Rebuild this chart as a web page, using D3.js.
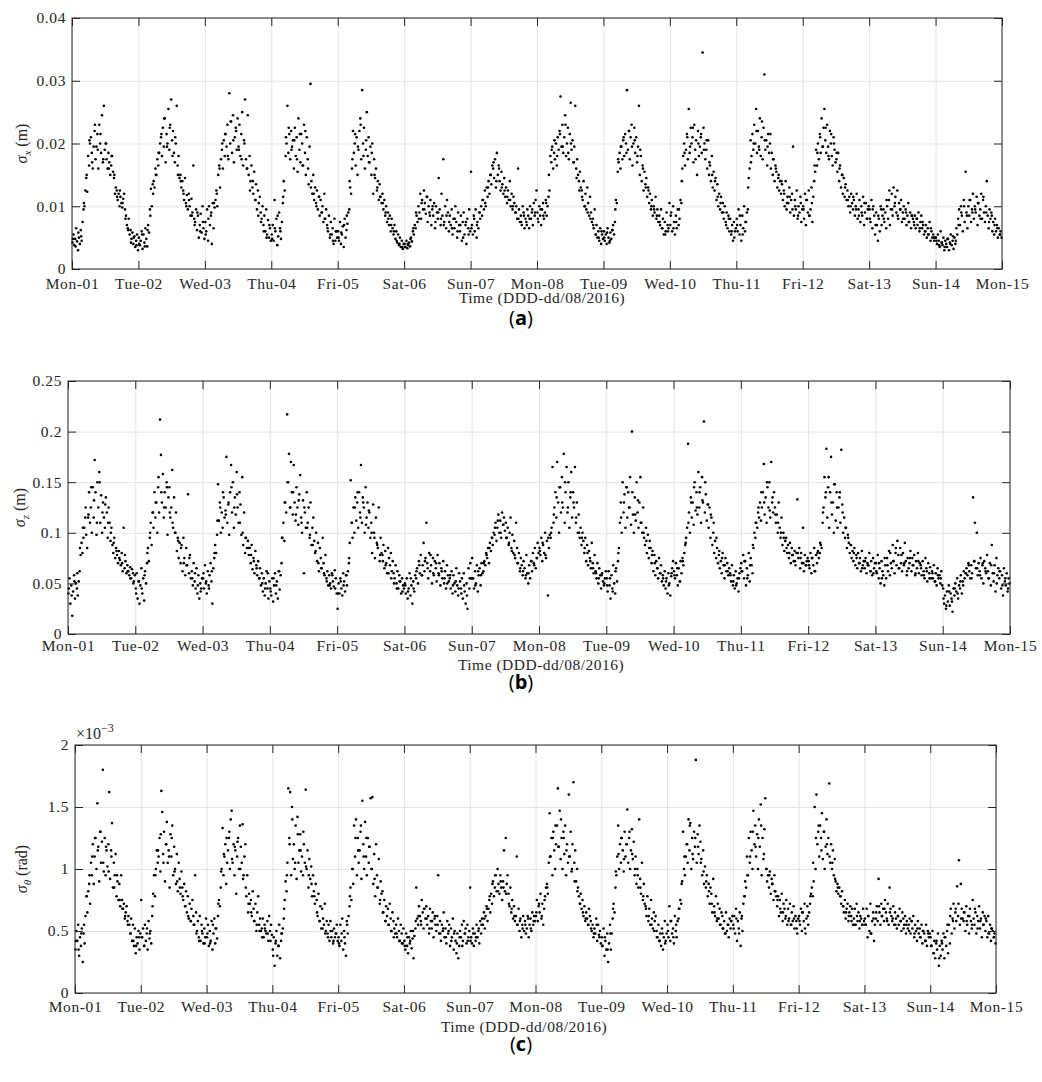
<!DOCTYPE html>
<html>
<head>
<meta charset="utf-8">
<script src="https://cdn.jsdelivr.net/npm/d3@7"></script>
<style>
  body { margin: 0; background: #fff; }
  svg text { font-family: "Liberation Serif", "DejaVu Serif", serif; fill: #262626; }
  .tick text { font-size: 15.5px; letter-spacing: 0.6px; }
  .axis-title { font-size: 15.5px; letter-spacing: 0.5px; }
  .caption { font-family: "Open Sans", "DejaVu Sans", sans-serif; font-size: 20px; fill: #000; }
</style>
</head>
<body>
<svg id="chart" width="1042" height="1082"></svg>
<script>
// day tick labels (one tick per day, 01/08/2016 .. 15/08/2016)
var dayLabels = ["Mon-01", "Tue-02", "Wed-03", "Thu-04", "Fri-05", "Sat-06", "Sun-07",
  "Mon-08", "Tue-09", "Wed-10", "Thu-11", "Fri-12", "Sat-13", "Sun-14", "Mon-15"];

// sigma_x, units of 1e-4 m, 72 samples per day (every 20 min)
var sigmaX = [
  [42,55,38,48,65,44,30,50,40,62,45,75, 95,100,125,145,123,180,165,200,210,185,160,195, 220,175,195,215,160,230,200,185,245,170,260,190, 200,175,160,185,170,150,165,180,155,145,120,130, 125,110,120,100,115,105,98,112,120,95,85,70, 65,80,55,62,48,58,40,52,35,45,55,30],
  [50,38,45,60,32,55,42,65,48,36,70,58, 95,128,100,135,140,130,160,150,175,165,185,200, 210,180,225,195,240,170,215,200,255,190,230,270, 205,220,185,170,200,260,165,180,145,150,130,140, 125,110,145,105,118,95,120,100,85,112,90,165, 80,75,95,62,85,50,70,88,58,100,65,48],
  [75,60,95,45,100,70,85,40,105,65,98,110, 125,100,150,165,130,175,190,160,205,180,215,195, 230,175,280,200,235,185,245,170,210,225,190,240, 195,230,180,215,250,165,205,270,175,160,245,150, 180,140,165,130,120,155,110,135,95,125,105,115, 90,80,100,70,85,60,95,55,78,50,65,45],
  [55,70,45,110,60,80,38,52,90,65,48,75, 105,140,125,180,200,260,185,215,175,220,195,205, 160,225,180,210,155,240,190,170,215,200,165,230, 185,150,210,175,135,195,295,140,120,150,110,130, 105,125,95,115,85,110,90,100,75,120,80,95, 70,60,85,50,75,55,65,40,80,45,60,50],
  [60,45,75,40,55,68,35,80,50,62,72,90, 95,130,120,160,220,185,200,165,210,150,190,220, 240,175,285,200,225,160,190,250,180,210,170,195, 150,200,120,175,145,160,125,140,110,135,115,105, 120,95,110,85,100,75,90,70,85,60,80,65, 55,70,48,60,42,55,38,50,35,45,32,40],
  [40,35,45,33,38,42,36,50,44,60,55,70, 65,85,75,100,90,120,80,110,95,125,105,88, 115,75,100,90,110,70,95,85,105,65,100,90, 80,145,95,70,120,85,175,75,100,65,110,90, 60,85,70,95,55,80,65,100,75,50,90,70, 60,85,45,75,90,55,70,40,80,65,95,60],
  [155,70,55,85,60,95,50,75,65,90,80,100, 85,110,95,125,100,130,115,140,120,150,135,165, 160,145,175,130,185,150,165,140,125,155,135,120, 145,115,130,105,125,110,140,100,120,95,115,105, 90,100,80,160,95,75,85,70,100,90,65,80, 75,95,85,65,100,80,90,70,105,85,110,125],
  [90,75,100,85,70,95,105,80,90,110,85,100, 115,125,180,170,195,160,185,175,200,165,210,190, 220,275,195,230,185,210,245,180,200,225,175,215, 265,190,205,170,195,260,160,175,150,140,155,130, 125,110,140,100,120,95,130,105,85,115,90,75, 80,65,95,55,70,50,60,45,65,40,55,48],
  [60,45,55,40,65,50,42,58,48,62,70,55, 75,110,105,155,170,185,160,195,175,205,180,215, 200,285,190,220,175,210,230,165,200,225,185,210, 170,195,260,150,180,140,165,125,155,135,145,115, 130,105,120,95,110,85,100,90,115,80,95,75, 85,70,95,65,80,55,75,60,90,70,65,105],
  [70,90,60,100,75,55,85,65,95,70,80,110, 105,160,180,200,165,190,215,175,255,185,225,200, 210,170,230,190,205,150,220,180,195,210,185,345, 225,200,175,190,160,205,150,165,140,180,130,155, 125,145,110,135,100,120,95,115,90,105,80,100, 75,90,65,85,60,80,55,70,45,75,60,65],
  [80,60,95,55,70,45,85,65,100,60,75,90, 95,145,160,205,180,215,190,230,200,255,185,220, 195,240,180,210,175,225,310,190,205,165,215,185, 200,160,185,150,175,140,165,155,130,145,125,140, 120,135,110,125,100,140,95,115,105,130,90,110, 120,195,85,110,95,125,80,100,90,115,75,95],
  [100,80,120,70,110,90,125,85,95,130,75,115, 140,155,190,165,200,175,215,185,240,195,225,255, 205,185,230,195,175,220,200,180,165,210,190,170, 175,155,185,140,165,130,150,120,145,115,135,110, 125,100,115,90,120,105,95,110,85,100,120,80, 95,110,75,100,85,115,70,90,105,80,95,100],
  [95,75,110,65,100,85,55,90,70,45,80,60, 100,70,85,95,75,90,65,100,80,110,70,95, 120,85,130,100,115,90,125,80,105,95,110,75, 90,100,80,95,70,85,105,75,90,65,85,80, 75,85,65,80,70,90,60,75,85,65,70,55, 60,70,50,65,55,75,45,60,50,55,45,50],
  [50,40,55,45,35,60,42,38,50,30,45,40, 35,48,30,42,55,38,45,32,50,40,65,55, 80,95,70,100,85,60,110,75,155,90,65,100, 85,110,75,95,120,80,100,90,115,70,105,85, 95,120,80,110,90,75,100,140,85,65,95,80, 90,60,75,55,80,60,70,50,65,55,60,50]
];
// extra hourly epochs for sigma_x (1e-4 m, 24 per day)
var sigmaXHourly = [
  [48,36,58,52,105,150,205,170,230,190,215,175,200,160,180,150,115,125,105,80,62,42,50,38],
  [40,55,36,62,85,120,150,185,215,240,195,225,180,210,150,140,120,100,110,85,70,90,60,75],
  [55,80,90,105,120,160,200,215,180,235,205,220,190,175,200,160,125,140,110,85,75,60,50,70],
  [48,65,85,60,115,210,225,190,205,175,215,165,220,160,130,120,100,115,90,80,65,55,45,60],
  [50,58,70,85,140,175,215,195,230,180,205,170,185,150,130,115,105,90,80,70,60,45,40,35],
  [35,40,48,65,90,80,105,95,115,85,100,75,90,80,70,85,75,65,80,60,70,50,75,55],
  [65,80,70,90,110,105,130,150,170,140,160,130,125,115,110,100,90,80,75,85,70,80,95,90],
  [80,95,85,105,150,190,205,180,215,195,230,185,200,170,145,125,115,100,90,80,70,55,50,60],
  [50,58,45,62,95,175,195,210,185,220,195,205,180,190,160,130,125,100,95,85,75,65,55,60],
  [85,65,75,95,140,185,210,195,225,175,200,215,190,205,170,150,140,115,105,90,70,80,60,50],
  [70,85,55,75,130,170,200,220,190,235,205,195,215,175,160,150,140,120,105,115,95,100,85,105],
  [95,110,85,105,165,185,210,195,225,180,215,200,185,160,150,130,110,100,115,95,85,90,105,80],
  [80,95,70,85,95,80,110,125,95,105,85,95,80,90,75,85,70,80,65,75,60,55,65,50],
  [45,38,42,35,48,40,52,45,70,90,100,85,110,90,95,105,80,115,90,75,85,70,65,55]
];

// sigma_z, units of 1e-3 m
var sigmaZ = [
  [40,55,30,48,18,42,58,35,50,45,38,52, 62,78,90,80,95,105,115,98,85,115,140,110, 125,100,145,115,172,140,98,150,125,160,110,137, 100,130,115,105,135,120,95,125,110,92,105,88, 80,95,75,85,78,70,82,73,68,80,62,105, 65,72,60,68,62,58,66,55,64,60,52,58],
  [45,60,35,52,30,48,65,40,55,33,62,50, 70,85,72,95,110,88,120,105,140,115,130,100, 145,120,212,177,130,158,115,140,125,150,98,135, 145,115,125,162,105,135,100,120,82,95,75,90, 70,88,62,95,75,58,85,68,138,60,78,55, 62,48,70,52,45,65,40,58,35,50,45,55],
  [55,45,68,50,40,62,48,58,70,52,30,65, 75,88,80,98,148,112,130,100,120,105,135,115, 122,175,110,128,98,140,167,120,150,105,135,118, 160,125,110,140,128,98,155,88,120,80,95,85, 92,78,85,70,88,64,75,60,82,68,58,72, 55,65,48,60,42,55,38,50,62,45,35,52],
  [45,38,55,32,48,60,40,52,35,62,44,58, 70,95,110,92,130,120,217,150,178,125,170,140, 118,167,130,112,145,125,108,138,157,115,100,132, 60,120,105,140,110,125,95,130,88,105,115,92, 80,100,72,90,62,85,75,65,95,70,58,78, 55,62,48,58,50,45,60,52,47,63,55,40],
  [25,50,40,55,45,38,60,52,42,58,48,62, 70,90,152,110,95,125,100,135,112,130,105,140, 120,167,110,135,125,100,145,115,130,105,120,95, 110,80,128,100,75,115,90,85,125,72,95,80, 78,88,65,82,70,60,85,75,68,80,62,72, 60,55,68,50,62,45,58,52,40,55,48,45],
  [50,40,55,35,45,60,38,48,30,52,42,58, 55,65,50,72,60,78,58,68,90,62,75,110, 70,55,80,62,68,50,75,58,72,65,52,78, 60,70,48,65,55,72,50,62,45,68,58,52, 55,45,62,40,58,50,42,65,48,38,60,52, 45,55,35,60,42,30,50,25,65,45,70,55],
  [75,55,45,62,50,68,42,58,65,48,70,60, 62,72,68,80,75,85,70,90,82,95,88,100, 98,110,92,105,118,100,112,95,120,108,115,102, 110,95,105,88,100,115,85,98,80,92,75,110, 85,70,80,62,75,68,58,72,65,55,78,60, 50,68,55,72,62,80,70,85,65,75,90,80],
  [85,78,95,72,88,80,100,75,92,38,85,98, 95,105,165,110,125,140,115,170,130,100,145,120, 155,125,178,110,140,165,120,150,105,135,160,115, 140,125,165,110,130,100,118,95,105,88,100,92, 80,95,72,88,68,82,75,65,90,70,60,78, 62,55,70,50,65,58,45,60,52,48,55,62],
  [55,42,62,48,35,58,45,68,50,40,65,52, 72,85,110,130,100,150,120,138,105,145,115,140, 125,155,108,200,118,100,135,112,150,120,105,130, 155,110,100,125,95,88,105,80,98,75,92,85, 70,82,62,78,58,72,65,55,75,60,68,52, 58,48,62,45,55,40,60,50,38,57,65,72],
  [62,55,70,58,48,65,52,72,60,75,68,80, 88,95,105,188,120,100,135,115,130,108,150,122, 140,118,160,125,145,110,155,130,210,120,138,112, 128,105,125,95,115,88,100,80,92,75,85,70, 78,65,72,60,80,68,55,75,62,70,58,65, 60,52,68,48,58,45,62,50,55,42,60,65],
  [70,62,78,55,72,48,65,58,80,52,75,68, 60,85,100,95,110,105,120,115,130,112,125,140, 168,118,135,110,145,125,150,115,170,130,120,140, 125,110,118,100,130,105,95,115,88,100,82,92, 95,80,88,75,90,70,85,78,72,82,68,80, 133,75,85,65,80,70,105,62,78,68,72,75],
  [72,65,80,60,75,68,85,62,78,70,82,75, 80,88,85,110,125,155,135,183,115,145,105,140, 175,118,130,100,148,112,140,105,125,135,110,182, 128,100,115,95,105,85,98,90,80,88,75,82, 72,85,68,78,65,80,70,75,62,82,68,72, 65,75,60,70,68,80,62,72,58,75,65,70],
  [70,60,78,55,65,50,72,62,58,48,68,55, 75,62,82,58,70,65,88,72,60,80,68,92, 78,65,85,70,62,80,68,90,72,58,75,65, 70,82,62,75,68,78,58,72,65,80,60,70, 68,58,72,62,55,75,65,52,70,60,66,55, 62,55,68,52,60,48,65,55,58,50,62,48],
  [45,30,38,25,42,32,48,28,40,35,22,45, 38,50,42,55,35,48,45,58,40,52,62,55, 60,65,58,70,62,55,68,60,135,72,110,65, 100,58,70,62,75,55,68,50,72,65,60,78, 62,55,70,48,88,60,52,68,42,75,58,65, 55,62,45,58,38,65,52,48,60,42,55,50]
];
// extra hourly epochs for sigma_z (1e-3 m)
var sigmaZHourly = [
  [45,38,52,60,85,105,125,118,145,132,110,150,120,128,110,100,90,82,75,70,78,62,55,50],
  [40,52,45,58,80,100,120,130,155,140,125,145,120,110,100,92,85,70,68,75,55,60,48,42],
  [60,52,45,62,80,112,125,140,118,130,145,125,138,110,100,95,85,78,72,65,55,50,45,60],
  [42,55,48,62,95,130,150,125,140,118,132,110,125,105,98,88,82,70,65,60,52,48,58,45],
  [40,52,48,58,75,110,125,140,115,130,108,122,100,95,88,78,72,68,60,55,50,45,52,42],
  [48,42,55,45,62,68,58,72,65,78,60,70,58,62,55,50,58,48,52,45,40,48,38,55],
  [55,48,62,58,70,78,85,95,105,112,100,108,95,90,82,78,70,65,62,58,60,72,68,75],
  [82,90,78,95,100,118,135,145,130,150,125,140,130,115,100,95,85,80,72,65,60,55,58,50],
  [48,55,42,62,80,115,130,145,125,140,118,132,110,100,92,85,78,70,65,60,55,52,48,60],
  [58,65,52,72,90,110,130,145,125,140,132,150,128,118,110,95,82,75,68,62,58,52,48,55],
  [62,72,55,68,88,110,125,140,130,150,122,135,118,110,100,95,85,80,78,72,80,75,70,68],
  [68,75,62,80,90,120,140,155,130,148,125,140,120,105,95,88,80,75,70,65,72,68,62,60],
  [62,70,55,75,68,80,72,85,65,78,70,62,75,68,60,72,65,58,62,55,60,52,58,55],
  [35,28,42,32,45,40,52,48,60,68,55,72,65,58,70,62,55,68,60,50,62,48,55,45]
];

// sigma_theta, units of 1e-5 rad
var sigmaTheta = [
  [35,50,42,55,30,45,38,52,25,48,40,62, 78,65,82,88,72,105,95,120,88,110,125,100, 153,118,90,130,105,122,180,98,125,95,115,102, 120,162,92,115,137,85,105,95,112,78,90,75, 88,70,95,75,68,72,60,65,70,58,62,55, 48,60,42,55,38,52,32,45,40,50,35,48],
  [75,45,52,38,55,42,48,35,58,44,50,40, 62,80,95,78,100,115,105,110,125,98,163,146, 112,130,90,120,138,105,115,85,128,110,135,95, 118,100,88,112,82,105,92,80,98,85,75,88, 70,82,65,78,60,72,58,68,75,62,55,95, 65,50,58,45,62,42,55,48,40,52,45,60],
  [45,55,38,50,42,58,35,48,60,40,52,44, 62,75,70,85,100,133,95,110,120,88,105,115, 125,100,140,147,105,120,95,115,80,110,125,100, 135,118,105,136,95,110,120,78,95,65,80,72, 75,62,82,68,58,72,50,65,78,55,60,50, 52,60,45,55,50,48,58,42,62,50,55,47],
  [35,45,22,40,50,30,38,55,28,42,48,52, 60,75,90,82,105,165,125,162,95,150,108,120, 100,135,92,142,105,115,128,98,110,95,120,105, 164,100,115,85,108,92,102,78,95,82,72,88, 75,62,80,58,70,52,68,60,55,72,50,58, 48,55,42,58,45,50,40,52,45,48,55,42],
  [45,38,55,42,60,35,50,40,30,58,48,62, 70,85,75,100,88,135,110,140,95,125,105,115, 130,92,155,120,100,138,110,95,125,105,118,157, 100,158,88,112,78,120,95,85,108,72,90,80, 82,65,75,58,70,62,68,55,72,60,50,65, 58,52,48,55,45,60,50,42,55,48,40,52],
  [42,35,48,38,32,45,40,50,36,44,28,46, 52,85,60,55,70,62,58,75,65,52,68,60, 70,55,62,48,68,58,52,65,45,60,55,50, 62,95,48,58,42,55,50,65,45,52,40,58, 48,55,38,52,45,60,35,50,42,32,48,28, 38,50,45,55,42,58,48,52,40,55,45,50],
  [85,45,40,52,38,48,42,55,45,50,40,58, 48,60,55,65,52,62,70,58,68,75,65,80, 72,90,78,85,95,82,100,88,80,95,85,75, 90,115,82,125,88,95,80,70,85,65,75,60, 70,58,62,110,55,68,50,60,45,55,62,50, 58,48,52,62,45,55,60,50,65,55,62,58],
  [62,75,58,70,65,80,60,72,55,68,78,85, 88,80,105,145,110,125,95,130,115,100,120,135, 165,118,147,108,125,100,130,112,135,95,120,105, 160,110,130,98,120,170,105,115,90,100,85,78, 72,80,68,75,62,70,58,65,60,55,68,62, 58,50,55,45,52,48,60,42,55,47,50,40],
  [45,38,52,30,42,35,48,25,40,55,35,48, 60,72,65,85,95,110,135,100,120,105,125,115, 98,130,110,120,148,105,125,100,115,132,108,122, 95,110,88,100,85,140,92,80,105,75,88,72, 70,62,78,58,68,55,75,60,52,65,58,62, 50,45,55,42,48,38,52,35,45,58,42,48],
  [55,45,70,42,58,48,52,40,62,50,45,58, 60,68,75,72,90,130,100,95,110,120,105,140, 115,137,100,125,108,130,118,188,105,128,112,135, 122,108,95,115,88,102,85,95,78,88,72,85, 80,65,92,70,62,78,58,72,60,68,55,65, 62,52,58,48,65,50,55,45,60,52,58,62],
  [55,62,48,68,42,58,52,65,38,60,50,72, 78,90,85,110,95,125,105,130,115,100,147,120, 135,110,128,100,140,118,152,95,125,108,132,157, 100,90,95,85,98,80,92,88,75,95,82,78, 70,78,62,75,65,80,58,72,68,60,75,55, 68,60,72,55,65,58,70,52,62,58,48,60],
  [62,55,68,50,65,58,72,48,60,70,55,65, 72,80,85,78,90,150,100,160,120,130,110,135, 125,145,108,130,100,118,140,112,125,169,105,120, 100,115,95,108,90,82,88,80,85,78,72,82, 70,65,75,60,68,72,58,65,70,62,68,55, 60,68,55,72,58,65,52,62,60,55,68,58],
  [60,55,68,45,62,50,72,48,58,65,42,55, 60,70,58,92,65,55,72,62,68,58,75,65, 60,72,55,85,68,62,58,70,55,65,60,52, 62,55,68,58,50,65,60,55,62,48,58,52, 55,60,48,58,52,62,45,55,50,42,58,48, 52,45,55,40,50,48,42,55,38,50,45,48],
  [45,38,50,32,42,28,40,35,48,22,38,30, 42,35,48,28,45,38,50,32,55,40,68,48, 60,72,52,65,58,86,62,107,55,88,68,60, 58,65,50,70,55,62,48,68,58,52,75,60, 55,65,48,62,58,70,52,60,45,65,55,62, 50,58,45,62,48,55,42,52,50,45,48,40]
];
// extra hourly epochs for sigma_theta (1e-5 rad)
var sigmaThetaHourly = [
  [42,35,48,55,78,95,110,125,115,130,105,118,98,110,85,95,75,68,62,55,48,42,38,45],
  [45,38,52,48,70,95,115,128,105,120,110,125,98,90,85,78,70,62,58,55,48,42,50,40],
  [48,40,55,52,72,98,112,125,130,108,118,122,100,92,85,72,65,58,55,50,45,52,48,42],
  [30,42,38,48,68,95,120,140,105,128,115,130,102,95,88,78,65,58,52,48,45,50,42,48],
  [40,48,45,55,78,100,125,115,135,110,125,118,100,92,85,75,65,58,55,50,45,48,42,40],
  [38,45,42,50,58,62,55,68,60,52,58,62,55,48,52,45,50,42,48,40,45,38,48,42],
  [42,48,45,52,55,60,68,78,88,95,82,90,85,80,72,68,62,55,58,52,55,60,52,58],
  [65,72,62,75,85,110,125,135,118,140,125,115,110,100,90,82,72,65,60,55,52,48,55,45],
  [38,45,35,48,68,98,112,125,108,120,130,112,100,95,85,78,68,62,55,50,45,42,48,40],
  [50,58,45,55,68,88,110,120,135,112,125,118,105,98,90,82,72,65,60,55,52,48,55,58],
  [52,60,48,62,78,95,110,130,118,125,135,112,100,95,88,82,75,68,65,62,58,55,60,52],
  [58,65,52,62,78,105,125,135,115,130,120,110,105,92,85,78,70,65,62,58,55,62,58,55],
  [55,62,48,60,65,70,62,68,58,65,60,55,62,58,52,55,50,58,48,52,45,50,42,48],
  [38,32,42,28,40,45,55,62,58,68,72,60,65,58,62,55,68,52,58,55,60,48,52,45]
];

// y tick values
var ticksX = [0, 0.01, 0.02, 0.03, 0.04];
var ticksZ = [0, 0.05, 0.1, 0.15, 0.2, 0.25];
var ticksTheta = [0, 0.5, 1, 1.5, 2];   // x 1e-3 rad

var svg = d3.select("#chart");

// day arrays -> points: t in days since Mon-01, v in axis units
function toPoints(days, scale, phase) {
  var pts = [];
  days.forEach(function(day, d) {
    day.forEach(function(v, i) {
      pts.push({ t: d + (i + phase) / day.length, v: v * scale });
    });
  });
  return pts;
}

var panels = [
  { pts: toPoints(sigmaX, 1e-4, 0.5).concat(toPoints(sigmaXHourly, 1e-4, 0.3)),
    yMax: 0.04, yTicks: ticksX,
    left: 72, top: 18, right: 1002, bottom: 269,
    tickBase: 289, titleX: 542, titleY: 303, capY: 325, cap: "a",
    yLabelX: 27, sub: "x", unit: " (m)" },
  { pts: toPoints(sigmaZ, 1e-3, 0.5).concat(toPoints(sigmaZHourly, 1e-3, 0.3)),
    yMax: 0.25, yTicks: ticksZ,
    left: 68, top: 381, right: 1010, bottom: 634,
    tickBase: 651, titleX: 541, titleY: 670, capY: 689, cap: "b",
    yLabelX: 25, sub: "z", unit: " (m)" },
  { pts: toPoints(sigmaTheta, 1e-2, 0.5).concat(toPoints(sigmaThetaHourly, 1e-2, 0.3)),
    yMax: 2, yTicks: ticksTheta,
    left: 75, top: 745, right: 996, bottom: 993,
    tickBase: 1012, titleX: 524, titleY: 1032, capY: 1051, cap: "c",
    yLabelX: 27, sub: "θ", unit: " (rad)", exponent: "−3" }
];

panels.forEach(drawPanel);

function drawPanel(p) {
  var width = p.right - p.left;
  var height = p.bottom - p.top;

  var g = svg.append("g")
    .attr("transform", `translate(${p.left}, ${p.top})`);

  var x = d3.scaleLinear().domain([0, 14]).range([0, width]);
  var y = d3.scaleLinear().domain([0, p.yMax]).range([height, 0]);
  var days = d3.range(dayLabels.length);

  // grid
  var gridX = g.append("g")
    .attr("transform", `translate(0, ${height})`)
    .call(d3.axisBottom(x).tickValues(days).tickSize(-height).tickFormat(""));
  var gridY = g.append("g")
    .call(d3.axisLeft(y).tickValues(p.yTicks).tickSize(-width).tickFormat(""));
  [gridX, gridY].forEach(function(gr) {
    gr.select(".domain").remove();
    gr.selectAll("text").remove();
    gr.selectAll("line").attr("stroke", "#e4e4e4").attr("stroke-width", 1);
  });

  // points
  g.append("g").selectAll("circle")
    .data(p.pts)
    .enter()
    .append("circle")
    .attr("cx", d => x(d.t))
    .attr("cy", d => y(d.v))
    .attr("r", 1.3)
    .attr("fill", "#000");

  // inward ticks on all four sides
  var bottomAxis = d3.axisBottom(x).tickValues(days).tickSizeInner(-8).tickSizeOuter(0)
    .tickFormat(d => dayLabels[d]);
  var topAxis = d3.axisTop(x).tickValues(days).tickSizeInner(-8).tickSizeOuter(0).tickFormat("");
  var leftAxis = d3.axisLeft(y).tickValues(p.yTicks).tickSizeInner(-8).tickSizeOuter(0)
    .tickPadding(6).tickFormat(d => String(d));
  var rightAxis = d3.axisRight(y).tickValues(p.yTicks).tickSizeInner(-8).tickSizeOuter(0).tickFormat("");

  var axes = [
    g.append("g").attr("transform", `translate(0, ${height})`).call(bottomAxis),
    g.append("g").call(topAxis),
    g.append("g").call(leftAxis),
    g.append("g").attr("transform", `translate(${width}, 0)`).call(rightAxis)
  ];
  axes.forEach(function(a) {
    a.attr("font-family", null).attr("font-size", null);
    a.select(".domain").remove();
    a.selectAll(".tick line").attr("stroke", "#262626");
  });
  axes[0].selectAll("text").attr("y", p.tickBase - p.bottom).attr("dy", 0);
  axes[1].selectAll("text").remove();
  axes[3].selectAll("text").remove();

  // box
  g.append("rect")
    .attr("width", width)
    .attr("height", height)
    .attr("fill", "none")
    .attr("stroke", "#262626")
    .attr("stroke-width", 1);

  // axis title
  svg.append("text")
    .attr("class", "axis-title")
    .attr("x", p.titleX)
    .attr("y", p.titleY)
    .attr("text-anchor", "middle")
    .text("Time (DDD-dd/08/2016)");

  // y label
  var yl = svg.append("text")
    .attr("transform", `translate(${p.yLabelX}, ${(p.top + p.bottom) / 2}) rotate(-90)`)
    .attr("text-anchor", "middle")
    .style("font-size", "16px")
    .style("white-space", "pre");
  yl.append("tspan").style("font-style", "italic").text("σ");
  yl.append("tspan").style("font-style", "italic").style("font-size", "11px")
    .attr("dy", 4).text(p.sub);
  yl.append("tspan").attr("dy", -4).text(p.unit);

  // exponent label
  if (p.exponent) {
    var ex = svg.append("text")
      .attr("x", p.left + 1)
      .attr("y", p.top - 6)
      .style("font-size", "16px");
    ex.append("tspan").text("×10");
    ex.append("tspan").style("font-size", "12px").attr("dy", -7).text(p.exponent);
  }

  // caption
  var cap = svg.append("text")
    .attr("class", "caption")
    .attr("x", 521)
    .attr("y", p.capY)
    .attr("text-anchor", "middle");
  cap.append("tspan").text("(");
  cap.append("tspan").style("font-weight", "bold").text(p.cap);
  cap.append("tspan").text(")");
}
</script>
</body>
</html>
